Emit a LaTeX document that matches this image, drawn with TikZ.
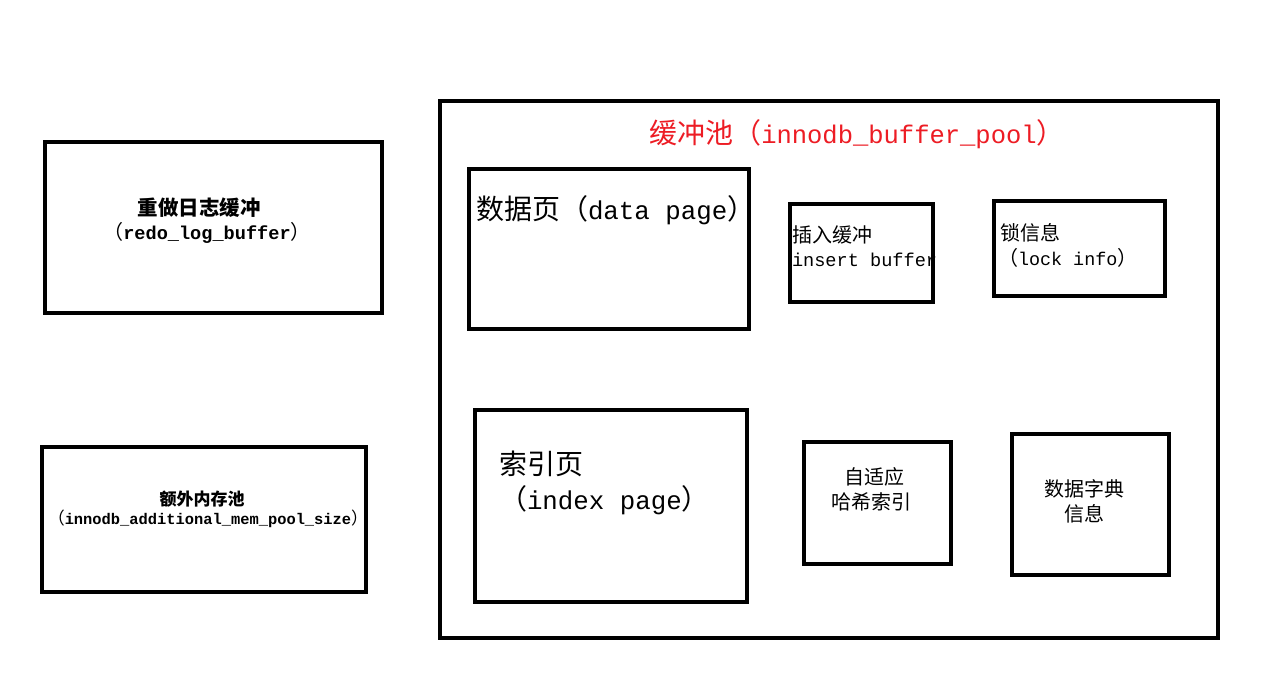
\documentclass[tikz,border=0pt]{standalone}
\usepackage{fontspec}
\newfontfamily\cjkf{Noto Sans CJK SC}
\newfontfamily\latf{Liberation Mono}
\newcommand\zh[2]{{\fontsize{#1}{#1}\cjkf\selectfont #2}}
\newcommand\en[2]{{\fontsize{#1}{#1}\latf\selectfont #2}}
\definecolor{titlered}{RGB}{237,28,36}
\begin{document}
\begin{tikzpicture}[x=1pt,y=-1pt,
  box/.style={draw=black, line width=4.5pt, rectangle, inner sep=0pt, fill=none},
  txt/.style={inner sep=0pt, outer sep=0pt, text=black}]
\useasboundingbox[fill=white] (0,0) rectangle (1266,677);
% texts
\node[txt, text=titlered] (ttitle) at (857,134) {\zh{28}{缓冲池（}\en{25.5}{innodb\_buffer\_pool}\zh{28}{）}};
\node[txt, anchor=west] (tdata) at (476,210) {\zh{28}{数据页（}\en{25.8}{data page}\zh{28}{）}};
\node[txt, anchor=west] (tins1) at (792,235) {\zh{20}{插入缓冲}};
\node[txt, anchor=west] (tins2) at (792,260) {\en{18.6}{insert buffer}};
\node[txt, anchor=west] (tlock1) at (1000,233) {\zh{20}{锁信息}};
\node[txt, anchor=west] (tlock2) at (998,258) {\zh{20}{（}\en{18.4}{lock info}\zh{20}{）}};
\node[txt] (tredo1) at (199,208) {\zh{20.5}{\bfseries 重做日志缓冲}};
\node[txt] (tredo2) at (207,233) {\zh{20}{（}\en{18.6}{\bfseries redo\_log\_buffer}\zh{20}{）}};
\node[txt] (taddl1) at (202,499) {\zh{17}{\bfseries 额外内存池}};
\node[txt] (taddl2) at (208,519) {\zh{17}{（}\en{15.4}{\bfseries innodb\_additional\_mem\_pool\_size}\zh{17}{）}};
\node[txt, anchor=west] (tidx1) at (499,464) {\zh{28}{索引页}};
\node[txt, anchor=west] (tidx2) at (499,500) {\zh{28}{（}\en{25.8}{index page}\zh{28}{）}};
\node[txt] (tahi1) at (874,477) {\zh{20}{自适应}};
\node[txt] (tahi2) at (871,502) {\zh{20}{哈希索引}};
\node[txt] (tdict1) at (1084,489) {\zh{20}{数据字典}};
\node[txt] (tdict2) at (1084,514) {\zh{20}{信息}};
% boxes
\node[box, minimum width=778pt, minimum height=537pt] (pool) at (829,369.5) {};
\node[box, minimum width=337pt, minimum height=171pt] (redo) at (213.5,227.5) {};
\node[box, minimum width=324pt, minimum height=145pt] (addl) at (204,519.5) {};
\node[box, minimum width=280pt, minimum height=160pt] (data) at (609,249) {};
\node[box, minimum width=143pt, minimum height=98pt] (insert) at (861.5,253) {};
\node[box, minimum width=171pt, minimum height=95pt] (lock) at (1079.5,248.5) {};
\node[box, minimum width=272pt, minimum height=192pt] (index) at (611,506) {};
\node[box, minimum width=147pt, minimum height=122pt] (ahi) at (877.5,503) {};
\node[box, minimum width=157pt, minimum height=141pt] (dict) at (1090.5,504.5) {};
\end{tikzpicture}
\end{document}
